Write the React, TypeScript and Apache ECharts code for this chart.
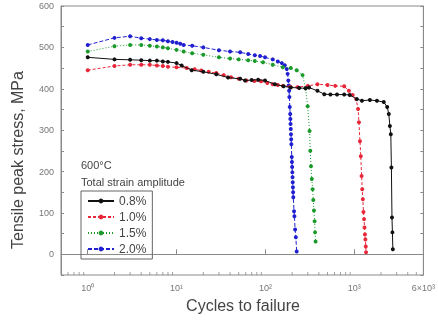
import React, { useEffect, useRef } from "react";
import * as echarts from "echarts";

// 0.8 % strain amplitude
const cycles08 = [1, 2, 3, 4, 5, 6, 7, 8, 10, 11.4, 14.8, 20, 28, 38, 52, 59, 70, 83, 99, 128, 160, 193, 240, 283, 310, 385, 460, 540, 640, 770, 890, 1070, 1220, 1500, 1800, 2150, 2350, 2450, 2520, 2580, 2620, 2660, 2690, 2720];
const stress08 = [476, 471, 470, 469, 468, 468, 466, 465, 462, 456, 445, 441, 435, 427, 424, 420, 421, 422, 420, 411, 406, 403, 402, 401, 403, 395, 387, 386, 386, 386, 385, 375, 371, 373, 371, 368, 356, 339, 310, 290, 210, 89, 53, 12];

// 1.0 % strain amplitude
const cycles10 = [1, 2, 3, 4, 5, 6, 7, 8, 10, 13, 16, 19, 23, 28, 34, 41, 50, 61, 75, 89, 105, 121, 138, 157, 190, 230, 300, 385, 500, 610, 770, 870, 960, 1050, 1105, 1130, 1160, 1185, 1210, 1230, 1250, 1270, 1290, 1305, 1320, 1335, 1348, 1358];
const stress10 = [445, 455, 458, 458, 458, 456, 455, 453, 452, 450, 447, 444, 441, 438, 433, 428, 424, 420, 419, 418, 414, 411, 409, 407, 405, 404, 407, 411, 409, 407, 406, 395, 385, 375, 351, 319, 273, 237, 189, 157, 133, 102, 85, 65, 48, 36, 19, 5];

// 1.5 % strain amplitude
const cycles15 = [1, 2, 3, 4, 5, 6, 7, 8, 10, 12, 15, 20, 30, 40, 50, 64, 76, 94, 121, 157, 193, 225, 262, 283, 299, 314, 320, 326, 333, 340, 346, 352, 358, 362, 367];
const stress15 = [490, 503, 506, 506, 504, 502, 500, 498, 494, 490, 486, 482, 476, 473, 471, 469, 467, 464, 458, 452, 450, 445, 433, 401, 358, 298, 250, 213, 182, 157, 131, 106, 80, 53, 31];

// 2.0 % strain amplitude
const cycles20 = [1, 2, 3, 4, 5, 6, 7, 8, 9, 10, 11, 12, 15, 20, 30, 40, 52, 64, 76, 87, 99, 121, 138, 153, 165, 174, 178, 181, 183, 185, 186, 188, 190, 191, 192, 193, 194, 195, 196, 198, 199, 200, 201, 202, 203, 204, 205, 206, 210, 212, 216, 220, 225];
const stress20 = [506, 523, 527, 522, 520, 518, 517, 515, 513, 511, 509, 506, 504, 500, 493, 490, 488, 484, 481, 479, 476, 471, 466, 462, 457, 448, 436, 420, 408, 395, 380, 356, 339, 327, 315, 303, 290, 278, 266, 235, 223, 211, 198, 186, 174, 162, 150, 138, 104, 92, 60, 41, 7];

const seriesNames = ["0.8%", "1.0%", "1.5%", "2.0%"];
const seriesColors = ["#111111", "#e8283a", "#1a9a2a", "#2020d0"];

const xTickValues = [1, 10, 100, 1000, 6000];
const xTickLabels = ["10⁰", "10¹", "10²", "10³", "6×10³"];
const xMinorTicks = [0.6, 0.7, 0.8, 0.9, 2, 3, 4, 5, 6, 7, 8, 9, 20, 30, 40, 50, 60, 70, 80, 90, 200, 300, 400, 500, 600, 700, 800, 900, 2000, 3000, 4000, 5000];

const FONT = "'Liberation Sans', Arial, sans-serif";

function zip(xs: number[], ys: number[]) {
  return xs.map((x, i) => [x, ys[i]]);
}

export default function App() {
  const ref = useRef<HTMLDivElement>(null);
  useEffect(() => {
    document.body.style.margin = "0";
    const chart = echarts.init(ref.current!, null, { renderer: "svg" });
    const dataSets = [zip(cycles08, stress08), zip(cycles10, stress10), zip(cycles15, stress15), zip(cycles20, stress20)];
    const dashTypes: any[] = ["solid", [3, 2], [1, 2], [4, 2]];
    const axisColor = "#8a8a8a";
    const labelColor = "#777";
    chart.setOption({
      animation: false,
      grid: { left: 61, right: 13, top: 6, bottom: 49, show: true, borderColor: axisColor, borderWidth: 1, backgroundColor: "transparent" },
      xAxis: {
        type: "log",
        logBase: 10,
        min: 0.5,
        max: 6000,
        axisLine: { lineStyle: { color: axisColor, width: 1 } },
        axisTick: { inside: true, length: 5, lineStyle: { color: axisColor } },
        splitLine: { show: false },
        axisLabel: {
          color: labelColor,
          fontSize: 9,
          fontFamily: FONT,
          margin: 8,
          showMinLabel: true,
          showMaxLabel: true,
          formatter: (v: number) => {
            const i = xTickValues.findIndex((t) => Math.abs(Math.log10(v) - Math.log10(t)) < 1e-4);
            return i >= 0 ? xTickLabels[i] : "";
          },
        },
      },
      yAxis: [
        {
          type: "value",
          min: -50,
          max: 600,
          interval: 50,
          axisLine: { show: true, lineStyle: { color: axisColor, width: 1 } },
          axisTick: { show: true, inside: true, length: 3, lineStyle: { color: axisColor } },
          splitLine: { show: false },
          axisLabel: {
            color: labelColor,
            fontSize: 9,
            fontFamily: FONT,
            margin: 7,
            formatter: (v: number) => (v % 100 === 0 ? String(v) : ""),
          },
        },
        {
          type: "value",
          position: "right",
          min: -50,
          max: 600,
          interval: 50,
          axisLine: { show: true, lineStyle: { color: axisColor, width: 1 } },
          axisTick: { show: true, inside: true, length: 3, lineStyle: { color: axisColor } },
          splitLine: { show: false },
          axisLabel: { show: false },
        },
      ],
      legend: {
        data: seriesNames,
        orient: "vertical",
        left: 81,
        top: 191,
        itemWidth: 26,
        itemHeight: 6,
        itemGap: 4,
        padding: [4, 6, 4, 6],
        borderColor: "#666",
        borderWidth: 1,
        textStyle: { fontSize: 12, color: "#444", fontFamily: FONT },
      },
      graphic: [
        { type: "text", left: 81, top: 159, style: { text: "600°C", fontSize: 11, fill: "#444", fontFamily: FONT } },
        { type: "text", left: 81, top: 176, style: { text: "Total strain amplitude", fontSize: 11, fill: "#444", fontFamily: FONT } },
        {
          type: "text",
          x: 17,
          y: 160,
          rotation: Math.PI / 2,
          style: { text: "Tensile peak stress, MPa", fontSize: 16, fill: "#444", fontFamily: FONT, align: "center", verticalAlign: "middle" },
        },
        {
          type: "text",
          x: 243,
          y: 305,
          style: { text: "Cycles to failure", fontSize: 16, fill: "#444", fontFamily: FONT, align: "center", verticalAlign: "middle" },
        },
      ],
      series: [
        ...dataSets.map((d, i) => ({
          name: seriesNames[i],
          type: "line",
          data: d,
          symbol: "circle",
          symbolSize: 4,
          showSymbol: true,
          lineStyle: { color: seriesColors[i], width: 1, type: dashTypes[i] },
          itemStyle: { color: seriesColors[i] },
          z: 3 + (3 - i),
        })),
        {
          name: "minorTicks",
          type: "scatter",
          data: xMinorTicks.map((x) => [x, -50]),
          symbol: "rect",
          symbolSize: [1, 3],
          symbolOffset: [0, -1.5],
          itemStyle: { color: axisColor },
          silent: true,
          z: 1,
        },
      ],
    });
    return () => chart.dispose();
  }, []);
  return <div ref={ref} style={{ position: "fixed", left: 0, top: 0, width: 438, height: 324 }} />;
}
